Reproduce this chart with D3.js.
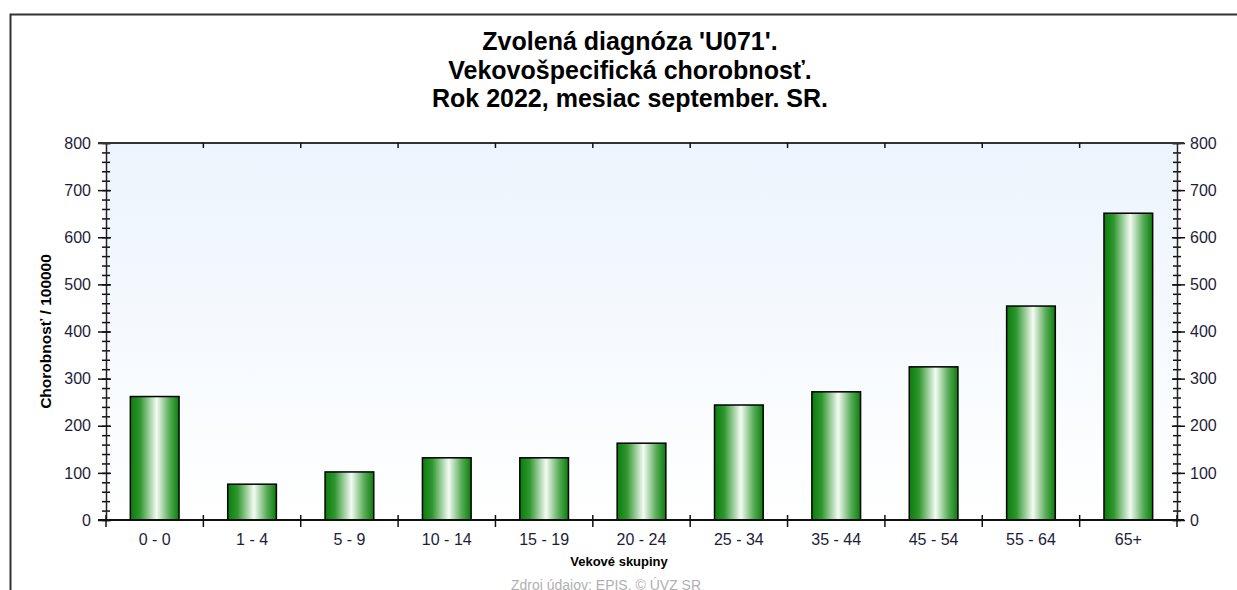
<!DOCTYPE html>
<html>
<head>
<meta charset="utf-8">
<script src="https://cdn.jsdelivr.net/npm/d3@7"></script>
<style>
  body { margin: 0; background: #fff; }
  svg { display: block; font-family: "Liberation Sans", Arial, sans-serif; }
</style>
</head>
<body>
<svg id="chart"></svg>
<script>
const categories = ["0 - 0", "1 - 4", "5 - 9", "10 - 14", "15 - 19", "20 - 24", "25 - 34", "35 - 44", "45 - 54", "55 - 64", "65+"]
const values = [262, 76, 102, 132, 132, 163, 244, 272, 325, 454, 651]
const majorTicks = [0, 100, 200, 300, 400, 500, 600, 700, 800]
const minorTicks = d3.range(0, 801, 20)
const titleLines = ["Zvolená diagnóza 'U071'.", "Vekovošpecifická chorobnosť.", "Rok 2022, mesiac september. SR."]

let
  width = 1237,
  height = 590,
  plotL = 106, plotR = 1177, plotT = 143, plotB = 520

var svg = d3.select("#chart").attr("width", width).attr("height", height)

var defs = svg.append("defs")
var bg = defs.append("linearGradient").attr("id", "bg").attr("x1", 0).attr("y1", 0).attr("x2", 0).attr("y2", 1)
bg.append("stop").attr("offset", "0%").attr("stop-color", "#ecf4fd")
bg.append("stop").attr("offset", "100%").attr("stop-color", "#ffffff")

var bar = defs.append("linearGradient").attr("id", "bar").attr("x1", 0).attr("y1", 0).attr("x2", 1).attr("y2", 0)
bar.append("stop").attr("offset", "0%").attr("stop-color", "#0a7d0a")
bar.append("stop").attr("offset", "20%").attr("stop-color", "#2f962f")
bar.append("stop").attr("offset", "54%").attr("stop-color", "#f4fbf4")
bar.append("stop").attr("offset", "80%").attr("stop-color", "#5aad5a")
bar.append("stop").attr("offset", "100%").attr("stop-color", "#0a7d0a")

// outer frame
svg.append("path")
  .attr("d", `M10.5,${height} V14.5 H${width}`)
  .attr("fill", "none").attr("stroke", "#333").attr("stroke-width", 2)

// title
svg.append("g").selectAll("text").data(titleLines).enter().append("text")
  .attr("x", 630).attr("y", (d, i) => 50 + i * 28.5)
  .attr("text-anchor", "middle").attr("font-size", 25).attr("font-weight", "bold")
  .attr("fill", "#000").text(d => d)

var x = d3.scaleBand().domain(categories).range([plotL, plotR]).paddingInner(0.5).paddingOuter(0.25)
var y = d3.scaleLinear().domain([0, 800]).range([plotB, plotT])
var step = x.step()

svg.append("rect")
  .attr("x", plotL).attr("y", plotT).attr("width", plotR - plotL).attr("height", plotB - plotT)
  .attr("fill", "url(#bg)")

svg.append("g").selectAll("rect").data(values).enter().append("rect")
  .attr("x", (d, i) => x(categories[i]))
  .attr("y", d => y(d))
  .attr("width", x.bandwidth())
  .attr("height", d => y(0) - y(d))
  .attr("fill", "url(#bar)")
  .attr("stroke", "#000").attr("stroke-width", 1.5)

function crossTicks(g, a, b) {
  g.selectAll(".tick line").attr("x1", a).attr("x2", b)
}

// left axis
var gl = svg.append("g").attr("transform", `translate(${plotL},0)`)
gl.call(d3.axisLeft(y).tickValues(minorTicks).tickFormat("").tickSizeOuter(0))
gl.call(g => crossTicks(g, -4, 4))
gl.call(g => g.select(".domain").remove())
var glm = svg.append("g").attr("transform", `translate(${plotL},0)`)
glm.call(d3.axisLeft(y).tickValues(majorTicks).tickSizeOuter(0).tickPadding(9))
glm.call(g => crossTicks(g, -8, 5))
glm.selectAll("text").attr("font-size", 16).attr("fill", "#1d1d3a").attr("font-family", "Liberation Sans, Arial, sans-serif")

// right axis
var gr = svg.append("g").attr("transform", `translate(${plotR},0)`)
gr.call(d3.axisRight(y).tickValues(minorTicks).tickFormat("").tickSizeOuter(0))
gr.call(g => crossTicks(g, -4, 4))
gr.call(g => g.select(".domain").remove())
var grm = svg.append("g").attr("transform", `translate(${plotR},0)`)
grm.call(d3.axisRight(y).tickValues(majorTicks).tickSizeOuter(0).tickPadding(7))
grm.call(g => crossTicks(g, -5, 8))
grm.selectAll("text").attr("font-size", 16).attr("fill", "#1d1d3a").attr("font-family", "Liberation Sans, Arial, sans-serif")

svg.selectAll(".domain").attr("stroke", "#222").attr("stroke-width", 1.5)
svg.selectAll(".tick line").attr("stroke", "#111").attr("stroke-width", 1.5)

// top and bottom lines
svg.append("line").attr("x1", plotL - 8).attr("x2", plotR + 7).attr("y1", plotT).attr("y2", plotT)
  .attr("stroke", "#333").attr("stroke-width", 2)
svg.append("line").attr("x1", plotL - 8).attr("x2", plotR + 7).attr("y1", plotB).attr("y2", plotB)
  .attr("stroke", "#111").attr("stroke-width", 2)

// category boundary ticks
var bounds = categories.map(c => x(c) - step * 0.25)
bounds.push(plotR)
svg.append("g").selectAll("line").data(bounds).enter().append("line")
  .attr("x1", d => d).attr("x2", d => d).attr("y1", plotB - 5).attr("y2", plotB + 7)
  .attr("stroke", "#111").attr("stroke-width", 1.5)
svg.append("g").selectAll("line").data(bounds.slice(1, -1)).enter().append("line")
  .attr("x1", d => d).attr("x2", d => d).attr("y1", plotT).attr("y2", plotT + 5)
  .attr("stroke", "#111").attr("stroke-width", 1.5)

// category labels
svg.append("g").selectAll("text").data(categories).enter().append("text")
  .attr("x", d => x(d) + x.bandwidth() / 2).attr("y", 545)
  .attr("text-anchor", "middle").attr("font-size", 16).attr("fill", "#1d1d3a").text(d => d)

svg.append("text").attr("x", 619).attr("y", 566)
  .attr("text-anchor", "middle").attr("font-size", 13).attr("font-weight", "bold").attr("fill", "#000")
  .text("Vekové skupiny")

svg.append("text").attr("transform", `translate(51,${(plotT + plotB) / 2}) rotate(-90)`)
  .attr("text-anchor", "middle").attr("font-size", 15.5).attr("font-weight", "bold").attr("fill", "#000")
  .text("Chorobnosť / 100000")

svg.append("text").attr("x", 606).attr("y", 590)
  .attr("text-anchor", "middle").attr("font-size", 14).attr("fill", "#b0b0b0")
  .text("Zdroj údajov: EPIS, © ÚVZ SR")
</script>
</body>
</html>
